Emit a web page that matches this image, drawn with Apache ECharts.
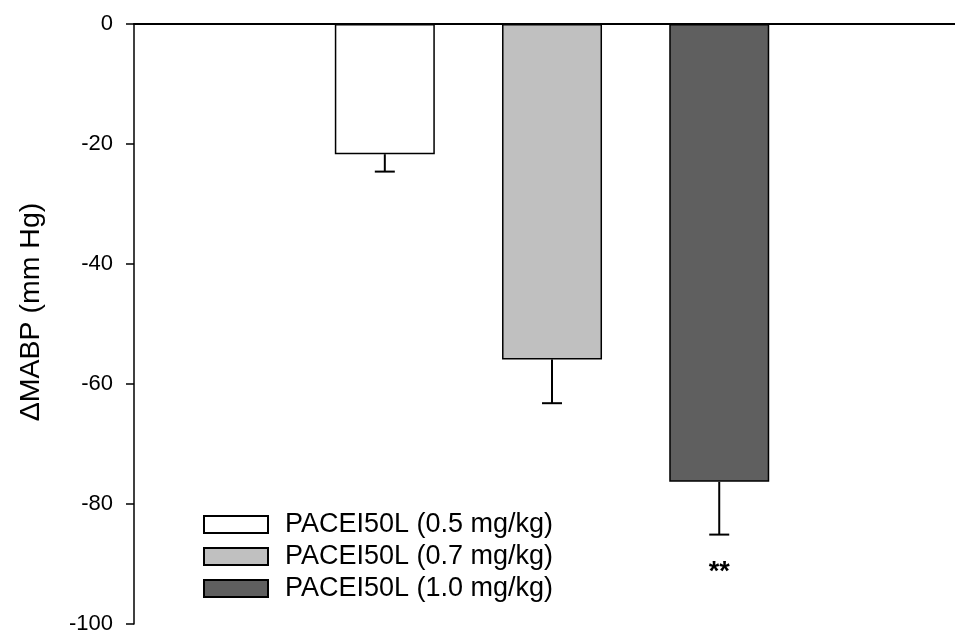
<!DOCTYPE html>
<html>
<head>
<meta charset="utf-8">
<script src="https://cdn.jsdelivr.net/npm/echarts@6/dist/echarts.min.js"></script>
<style>
  html, body { margin: 0; padding: 0; background: #fff; }
  #chart { width: 955px; height: 637px; }
</style>
</head>
<body>
<div id="chart"></div>
<script>
// Dose groups, mean change in MABP and their error (SEM)
const groups = ['PACEI50L (0.5 mg/kg)', 'PACEI50L (0.7 mg/kg)', 'PACEI50L (1.0 mg/kg)'];
const positions = [1.5, 2.5, 3.5];
const means = [-21.7, -55.9, -76.3];
const errors = [2.9, 7.3, 8.8];
const significance = ['', '', '**'];
const fills = ['#ffffff', '#c0c0c0', '#5f5f5f'];
const yTicks = [0, -20, -40, -60, -80, -100];
const yTitle = 'ΔMABP (mm Hg)';

const FONT = '"Liberation Sans", Arial, sans-serif';

const barSeries = groups.map((name, i) => ({
  name: name,
  type: 'bar',
  barWidth: 100,
  barGap: '-100%',
  itemStyle: { color: fills[i], borderColor: '#000', borderWidth: 1.5 },
  data: [[positions[i], means[i]]],
  z: 2
}));

const errorSeries = {
  type: 'custom',
  name: 'error',
  data: means.map((m, i) => [positions[i], m, m - errors[i], i]),
  z: 3,
  renderItem: function (params, api) {
    const x = api.value(0);
    const top = api.coord([x, api.value(1)]);
    const bot = api.coord([x, api.value(2)]);
    const idx = api.value(3);
    const half = 10;
    const children = [
      { type: 'line', shape: { x1: top[0], y1: top[1], x2: bot[0], y2: bot[1] },
        style: { stroke: '#000', lineWidth: 2 } },
      { type: 'line', shape: { x1: bot[0] - half, y1: bot[1], x2: bot[0] + half, y2: bot[1] },
        style: { stroke: '#000', lineWidth: 2 } }
    ];
    if (significance[idx]) {
      children.push({
        type: 'text',
        style: {
          text: significance[idx], x: bot[0], y: bot[1] + 38,
          align: 'center', verticalAlign: 'middle',
          font: 'bold 27px ' + FONT, fill: '#000'
        }
      });
    }
    return { type: 'group', children: children };
  }
};

const chart = echarts.init(document.getElementById('chart'), null, { renderer: 'canvas' });
chart.setOption({
  animation: false,
  backgroundColor: '#fff',
  grid: { left: 134, top: 24, right: 0, height: 600 },
  graphic: [{
    type: 'text',
    x: 31,
    y: 312,
    rotation: Math.PI / 2,
    style: {
      text: yTitle, font: '28.5px ' + FONT, fill: '#000',
      align: 'center', verticalAlign: 'middle'
    }
  }],
  legend: {
    data: groups,
    orient: 'vertical',
    left: 203,
    top: 511,
    padding: 0,
    itemWidth: 64,
    itemHeight: 17,
    itemGap: 5,
    icon: 'rect',
    textStyle: { fontFamily: FONT, fontSize: 27, lineHeight: 26, color: '#000', padding: [0, 0, 0, 12] },
    selectedMode: false
  },
  xAxis: {
    type: 'value',
    min: 0,
    max: 4.91,
    axisLine: { show: true, onZero: true, lineStyle: { color: '#000', width: 2 } },
    axisTick: { show: false },
    axisLabel: { show: false },
    splitLine: { show: false }
  },
  yAxis: {
    type: 'value',
    min: -100,
    max: 0,
    interval: 20,
    axisLine: { show: true, lineStyle: { color: '#000', width: 1.5 } },
    axisTick: { show: true, inside: false, length: 8, lineStyle: { color: '#000', width: 1.5 } },
    axisLabel: {
      fontFamily: FONT, fontSize: 22, color: '#000', margin: 21,
      formatter: v => (yTicks.includes(v) ? String(v) : '')
    },
    splitLine: { show: false }
  },
  series: [...barSeries, errorSeries]
});
</script>
</body>
</html>
